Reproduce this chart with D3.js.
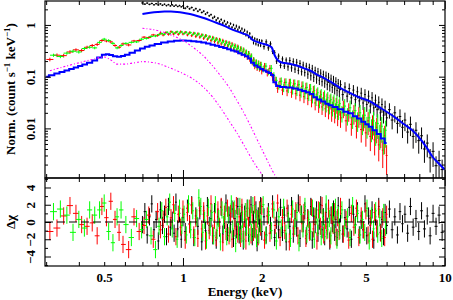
<!DOCTYPE html>
<html>
<head>
<meta charset="utf-8">
<script src="https://cdn.jsdelivr.net/npm/d3@7"></script>
<style>body{margin:0;background:#fff}</style>
</head>
<body>
<div id="chart"></div>
<script>
// rows: [energy keV, counts/s/keV, fractional error, residual (delta chi)]
var blackRows = [
	[0.700,2.66,.035,-0.3],[0.715,2.52,.035,1.2],[0.730,2.64,.035,-1.5],[0.745,2.49,.035,0.6],[0.760,2.60,.035,2.1],
	[0.775,2.45,.035,-0.9],[0.790,2.57,.035,0.3],[0.805,2.43,.035,-2.2],[0.820,2.55,.035,1.4],[0.835,2.40,.035,-0.4],
	[0.850,2.51,.035,0.9],[0.865,2.36,.035,-1.7],[0.880,2.47,.035,1.8],[0.895,2.33,.035,-0.6],[0.910,2.44,.035,0.2],
	[0.925,2.30,.035,-1.3],[0.940,2.41,.035,2.3],[0.955,2.27,.035,-0.8],[0.970,2.37,.035,1.0],[0.985,2.24,.035,-2.0],
	[1.000,2.33,.035,0.5],
	[1.02,2.10,.045,-1.1],[1.04,2.25,.045,1.6],[1.06,2.05,.045,-0.2],[1.08,2.17,.045,2.0],[1.10,1.93,.045,-1.8],
	[1.12,2.06,.045,0.7],[1.14,1.84,.045,-0.5],[1.16,1.97,.045,1.3],[1.18,1.74,.045,-2.3],[1.20,1.84,.045,0.9],
	[1.22,1.62,.045,-1.0],[1.24,1.73,.045,1.9],[1.26,1.50,.045,-0.4],[1.28,1.58,.045,0.4],[1.30,1.36,.055,-1.6],
	[1.32,1.44,.055,1.2],[1.34,1.24,.055,-2.1],[1.36,1.35,.055,0.6],[1.38,1.16,.055,-0.7],[1.40,1.27,.055,1.7],
	[1.42,1.09,.055,-1.4],[1.44,1.19,.055,0.2],[1.46,1.03,.055,2.2],[1.48,1.12,.055,-1.2],[1.50,0.95,.055,0.8],
	[1.52,1.06,.055,-0.3],[1.54,0.90,.055,1.5],[1.56,1.00,.055,-1.9],[1.58,0.85,.055,0.4],[1.60,0.95,.07,-0.9],
	[1.62,0.80,.07,1.8],[1.64,0.90,.07,-1.5],[1.66,0.75,.07,0.1],[1.68,0.84,.07,1.1],[1.70,0.70,.07,-2.2],
	[1.72,0.79,.07,0.9],[1.74,0.64,.07,-0.6],[1.76,0.73,.07,1.6],[1.78,0.59,.07,-1.3],[1.80,0.68,.07,0.5],
	[1.82,0.55,.07,2.0],[1.84,0.58,.07,-1.7],[1.86,0.45,.07,0.3],[1.88,0.54,.07,-0.8],[1.90,0.43,.07,1.4],
	[1.92,0.52,.07,-2.4],[1.94,0.41,.07,0.7],[1.96,0.50,.07,-0.2],[1.98,0.40,.07,1.9],[2.00,0.49,.07,-1.1],
	[2.04,0.38,.12,0.6],[2.08,0.47,.12,-1.5],[2.12,0.36,.12,1.2],[2.16,0.43,.12,-0.4],[2.20,0.31,.12,2.1],
	[2.24,0.29,.12,-1.8],[2.28,0.20,.12,0.2],[2.32,0.25,.12,-0.9],[2.36,0.165,.12,1.7],[2.40,0.22,.12,-1.2],
	[2.44,0.16,.12,0.8],[2.48,0.21,.12,-2.3],[2.52,0.155,.16,1.0],[2.56,0.205,.16,-0.5],[2.60,0.148,.16,1.9],
	[2.64,0.195,.16,-1.4],[2.68,0.140,.16,0.4],[2.72,0.190,.16,-0.7],[2.76,0.132,.16,2.2],[2.80,0.180,.16,-1.9],
	[2.84,0.125,.16,0.9],[2.88,0.168,.16,-0.2],[2.92,0.120,.16,1.3],[2.96,0.160,.16,-1.6],[3.00,0.112,.19,0.5],
	[3.04,0.150,.19,-1.0],[3.08,0.104,.19,1.8],[3.12,0.142,.19,-2.1],[3.16,0.097,.19,0.7],[3.20,0.131,.19,-0.3],
	[3.24,0.090,.19,1.4],[3.28,0.124,.19,-1.3],[3.32,0.085,.19,0.1],[3.36,0.117,.19,2.0],[3.40,0.080,.19,-0.9],
	[3.44,0.110,.19,0.6],[3.48,0.075,.19,-1.7],[3.52,0.103,.22,1.1],[3.56,0.070,.22,-0.5],[3.60,0.097,.22,1.6],
	[3.64,0.066,.22,-2.2],[3.68,0.090,.22,0.8],[3.72,0.062,.22,-0.2],[3.76,0.085,.22,1.5],[3.80,0.058,.22,-1.2],
	[3.84,0.080,.22,0.3],[3.88,0.054,.22,-1.8],[3.92,0.074,.22,1.9],[3.96,0.051,.22,-0.6],[4.00,0.070,.22,1.0],
	[4.08,0.045,.24,-1.4],[4.16,0.063,.24,0.5],[4.24,0.042,.24,-0.8],[4.32,0.059,.25,1.7],[4.40,0.039,.25,-2.0],
	[4.48,0.055,.25,0.9],[4.56,0.036,.26,-0.3],[4.64,0.051,.26,1.3],[4.72,0.034,.26,-1.5],[4.80,0.048,.27,0.2],
	[4.88,0.031,.27,-0.9],[4.96,0.045,.27,2.1],[5.04,0.029,.28,-1.6],[5.12,0.042,.28,0.7],[5.20,0.027,.28,-0.4],
	[5.28,0.039,.29,1.4],[5.36,0.025,.29,-2.1],[5.44,0.035,.29,0.6],[5.52,0.023,.30,-0.8],[5.60,0.032,.30,1.8],
	[5.68,0.020,.30,-1.2],[5.76,0.029,.31,0.3],[5.84,0.018,.31,-1.7],[5.92,0.026,.32,1.1],[6.00,0.016,.32,-0.4],
	[6.15,0.023,.33,1.5],[6.30,0.0145,.34,-0.9],[6.45,0.020,.35,0.6],[6.60,0.0125,.36,-1.5],[6.75,0.017,.37,1.2],
	[6.90,0.0105,.38,-0.2],[7.05,0.0145,.39,0.9],[7.22,0.0085,.40,-1.3],[7.40,0.0120,.41,1.8],[7.58,0.0070,.42,-0.6],
	[7.77,0.0092,.43,0.4],[7.96,0.0058,.44,-1.1],[8.16,0.0072,.45,1.3],[8.37,0.0040,.46,-0.8],[8.58,0.0052,.47,0.7],
	[8.80,0.0027,.48,-1.6],[9.03,0.0036,.50,1.0],[9.27,0.0019,.52,-0.5],[9.52,0.0024,.54,0.8],[9.78,0.0016,.56,-1.2]
];

var redRows = [
	[0.31,0.215,.08,-1.1],[0.33,0.26,.08,-0.7],[0.35,0.255,.08,0.7],[0.37,0.30,.08,1.9],[0.39,0.33,.07,1.0],
	[0.41,0.32,.07,-0.3],[0.43,0.37,.07,-0.5],[0.45,0.40,.07,-0.1],[0.47,0.42,.07,-1.6],[0.49,0.50,.06,1.8],
	[0.51,0.49,.06,0.5],[0.53,0.47,.06,2.4],[0.55,0.40,.06,0.3],[0.57,0.37,.06,-1.2],[0.59,0.43,.06,-2.6],
	[0.62,0.41,.06,-3.2],[0.65,0.49,.05,0.6],[0.68,0.50,.05,-1.1],[0.71,0.58,.05,-0.4],[0.74,0.57,.05,0.8],
	[0.77,0.64,.05,-2.0],
	[0.80,0.63,.06,1.2],[0.82,0.69,.06,-0.9],[0.84,0.64,.06,0.3],[0.86,0.71,.06,1.7],[0.88,0.66,.06,-1.4],
	[0.90,0.74,.06,0.5],[0.92,0.67,.06,2.0],[0.94,0.72,.06,-1.7],[0.96,0.66,.06,0.9],[0.98,0.74,.06,-0.6],
	[1.00,0.67,.06,1.5],[1.02,0.72,.06,-2.1],[1.04,0.64,.06,1.1],[1.06,0.71,.06,-0.3],[1.08,0.62,.06,1.9],
	[1.10,0.69,.07,-1.5],[1.12,0.60,.07,0.4],[1.14,0.67,.07,-1.9],[1.16,0.58,.07,1.6],[1.18,0.64,.07,-0.8],
	[1.20,0.55,.07,1.3],[1.22,0.62,.07,-2.2],[1.24,0.53,.07,0.7],[1.26,0.59,.07,-1.0],[1.28,0.50,.07,2.1],
	[1.30,0.57,.08,-1.3],[1.32,0.48,.08,0.2],[1.34,0.54,.08,-1.8],[1.36,0.45,.08,1.4],[1.38,0.52,.08,-0.5],
	[1.40,0.43,.08,1.8],[1.42,0.50,.08,-2.4],[1.44,0.41,.08,0.9],[1.46,0.47,.09,-1.1],[1.48,0.39,.09,1.6],
	[1.50,0.45,.09,-1.6],[1.52,0.37,.09,1.0],[1.54,0.43,.09,-2.0],[1.56,0.34,.09,1.3],[1.58,0.40,.10,-0.7],
	[1.60,0.32,.10,1.9],[1.62,0.38,.10,-1.4],[1.64,0.30,.10,0.6],[1.66,0.35,.10,-1.9],[1.68,0.28,.11,1.7],
	[1.70,0.33,.11,-1.1],[1.72,0.26,.11,0.4],[1.74,0.30,.11,-2.2],[1.76,0.24,.12,1.2],[1.78,0.28,.12,-0.4],
	[1.80,0.22,.12,1.6],[1.82,0.25,.12,-1.5],[1.84,0.19,.13,0.8],[1.86,0.21,.13,-1.2],[1.88,0.16,.13,2.0],
	[1.90,0.19,.13,-0.9],[1.92,0.15,.14,0.3],[1.94,0.18,.14,-1.7],[1.96,0.145,.14,1.4],[1.98,0.17,.14,-0.6],
	[2.00,0.13,.15,1.8],[2.05,0.16,.15,-2.1],[2.10,0.12,.16,0.7],[2.15,0.145,.16,-1.3],[2.20,0.10,.17,1.5],
	[2.25,0.085,.18,-0.4],[2.30,0.060,.19,2.2],[2.35,0.080,.19,-1.8],[2.40,0.055,.20,0.5],[2.45,0.077,.20,-1.0],
	[2.50,0.053,.21,1.6],[2.55,0.075,.21,-2.3],[2.60,0.050,.22,0.9],[2.65,0.072,.22,-0.7],[2.70,0.047,.23,1.3],
	[2.75,0.069,.23,-1.6],[2.80,0.044,.24,2.0],[2.85,0.065,.24,-0.2],[2.90,0.041,.25,1.1],[2.95,0.061,.25,-1.9],
	[3.00,0.038,.26,0.4],[3.05,0.057,.26,-1.2],[3.10,0.035,.27,1.7],[3.15,0.052,.27,-0.8],[3.20,0.031,.28,0.6],
	[3.25,0.046,.28,-2.2],[3.30,0.028,.29,1.4],[3.35,0.042,.29,-0.5],[3.40,0.026,.30,1.9],[3.45,0.039,.30,-1.5],
	[3.50,0.024,.31,0.2],[3.55,0.036,.31,-1.0],[3.60,0.022,.32,1.5],[3.65,0.034,.32,-2.0],[3.70,0.020,.33,0.8],
	[3.75,0.031,.33,-0.4],[3.80,0.019,.34,1.2],[3.85,0.029,.34,-1.7],[3.90,0.017,.35,0.5],[3.95,0.027,.35,-1.1],
	[4.00,0.016,.36,1.8],[4.10,0.025,.37,-1.4],[4.20,0.014,.38,0.3],[4.30,0.022,.39,-2.1],[4.40,0.012,.40,1.0],
	[4.50,0.020,.41,-0.6],[4.60,0.011,.42,1.6],[4.70,0.018,.43,-1.8],[4.80,0.0095,.44,0.7],[4.90,0.016,.45,-0.9],
	[5.00,0.0082,.46,1.3],[5.10,0.014,.47,-1.5],[5.20,0.0070,.48,0.4],[5.30,0.012,.49,-2.0],[5.40,0.0060,.50,1.1],
	[5.50,0.0105,.51,-0.7],[5.60,0.0048,.52,1.5],[5.70,0.0088,.53,-1.3],[5.80,0.0038,.55,0.6],[5.90,0.0072,.56,-1.8],
	[6.00,0.0030,.58,0.9]
];

var greenRows = [
	[0.32,0.26,.07,1.2],[0.34,0.245,.07,1.5],[0.36,0.285,.07,0.8],[0.38,0.31,.07,-1.2],[0.40,0.30,.07,0.3],
	[0.42,0.35,.07,-0.7],[0.44,0.37,.06,1.4],[0.46,0.36,.06,0.8],[0.48,0.46,.06,1.4],[0.50,0.53,.06,2.2],
	[0.52,0.50,.06,-1.1],[0.54,0.44,.06,-2.4],[0.56,0.36,.06,0.6],[0.58,0.40,.06,1.4],[0.605,0.44,.05,-0.3],
	[0.635,0.46,.05,-1.8],[0.665,0.47,.05,0.4],[0.695,0.53,.05,-0.9],[0.725,0.55,.05,0.3],[0.755,0.60,.05,-1.6],
	[0.785,0.61,.05,-3.2],
	[0.81,0.65,.05,-0.5],[0.83,0.68,.05,1.3],[0.85,0.66,.05,-1.7],[0.87,0.72,.05,0.6],[0.89,0.68,.05,2.3],
	[0.91,0.73,.05,-0.8],[0.93,0.69,.05,1.0],[0.95,0.74,.05,-2.0],[0.97,0.69,.05,1.6],[0.99,0.73,.05,-0.4],
	[1.01,0.68,.05,0.9],[1.03,0.72,.05,-1.5],[1.05,0.67,.05,2.1],[1.07,0.71,.05,-0.9],[1.09,0.65,.05,1.3],
	[1.11,0.69,.06,-1.8],[1.13,0.63,.06,0.5],[1.15,0.67,.06,2.8],[1.17,0.60,.06,1.8],[1.19,0.64,.06,-1.2],
	[1.21,0.58,.06,0.2],[1.23,0.62,.06,-2.1],[1.25,0.55,.06,1.7],[1.27,0.59,.06,-0.6],[1.29,0.52,.07,1.1],
	[1.31,0.56,.07,-1.6],[1.33,0.50,.07,2.0],[1.35,0.53,.07,-1.0],[1.37,0.47,.07,0.4],[1.39,0.51,.07,-2.3],
	[1.41,0.45,.07,1.4],[1.43,0.48,.07,-0.3],[1.45,0.42,.08,1.2],[1.47,0.46,.08,-1.7],[1.49,0.40,.08,0.8],
	[1.51,0.44,.08,-1.3],[1.53,0.38,.08,2.1],[1.55,0.41,.08,-0.8],[1.57,0.36,.09,1.5],[1.59,0.39,.09,-2.5],
	[1.61,0.34,.09,0.6],[1.63,0.37,.09,-1.1],[1.65,0.31,.10,1.8],[1.67,0.35,.10,-1.4],[1.69,0.29,.10,0.3],
	[1.71,0.33,.10,-2.0],[1.73,0.27,.11,1.2],[1.75,0.30,.11,-0.6],[1.77,0.25,.11,1.6],[1.79,0.28,.11,-1.7],
	[1.81,0.23,.12,0.7],[1.83,0.25,.12,-1.2],[1.85,0.19,.12,1.9],[1.87,0.21,.12,-0.9],[1.89,0.17,.13,1.0],
	[1.91,0.19,.13,-1.9],[1.93,0.155,.13,0.4],[1.95,0.18,.13,-1.5],[1.97,0.15,.14,1.3],[1.99,0.17,.14,-0.2],
	[2.025,0.14,.14,2.0],[2.075,0.16,.15,-1.6],[2.125,0.125,.15,0.8],[2.175,0.145,.16,-1.0],[2.225,0.105,.16,1.4],
	[2.275,0.085,.17,-2.2],[2.325,0.068,.18,0.6],[2.375,0.082,.18,-0.7],[2.425,0.062,.19,1.7],[2.475,0.078,.19,-1.3],
	[2.525,0.060,.20,0.2],[2.575,0.076,.20,-1.9],[2.625,0.057,.21,1.5],[2.675,0.073,.21,-0.5],[2.725,0.054,.22,1.1],
	[2.775,0.070,.22,-2.4],[2.825,0.051,.23,0.9],[2.875,0.066,.23,-0.8],[2.925,0.048,.24,1.8],[2.975,0.062,.24,-1.4],
	[3.025,0.045,.25,0.3],[3.075,0.058,.25,-1.1],[3.125,0.041,.26,1.6],[3.175,0.054,.26,-2.0],[3.225,0.037,.27,0.7],
	[3.275,0.049,.27,-0.6],[3.325,0.034,.28,1.3],[3.375,0.045,.28,-1.7],[3.425,0.031,.29,0.5],[3.475,0.042,.29,-1.2],
	[3.525,0.029,.30,2.1],[3.575,0.039,.30,-0.9],[3.625,0.027,.31,0.4],[3.675,0.036,.31,-1.6],[3.725,0.025,.32,1.2],
	[3.775,0.034,.32,-0.3],[3.825,0.023,.33,1.7],[3.875,0.032,.33,-2.1],[3.925,0.022,.34,0.8],[3.975,0.030,.34,-1.0],
	[4.05,0.020,.35,1.4],[4.15,0.027,.36,-0.7],[4.25,0.018,.37,0.6],[4.35,0.025,.38,-1.8],[4.45,0.016,.39,1.9],
	[4.55,0.022,.40,-0.4],[4.65,0.0145,.41,1.0],[4.75,0.020,.42,-1.5],[4.85,0.013,.43,0.3],[4.95,0.018,.44,-1.2],
	[5.05,0.0115,.45,1.6],[5.15,0.016,.46,-2.2],[5.25,0.0102,.47,0.7],[5.35,0.014,.48,-0.8],[5.45,0.0090,.49,1.3],
	[5.55,0.0125,.50,-1.4],[5.65,0.0078,.51,0.5],[5.75,0.0110,.52,-1.9],[5.85,0.0066,.53,1.1],[5.95,0.0092,.54,-0.6]
];

// folded models (blue)
var modelHigh = [
	[0.70,1.63],[0.75,1.72],[0.80,1.78],[0.85,1.81],[0.90,1.81],[0.95,1.78],[1.0,1.72],[1.05,1.64],[1.1,1.55],
	[1.2,1.36],[1.3,1.17],[1.4,1.02],[1.5,0.87],[1.6,0.76],[1.7,0.68],[1.78,0.62],[1.84,0.52],[1.9,0.48],
	[2.0,0.44],[2.1,0.41],[2.18,0.37],[2.24,0.26],[2.3,0.21],[2.4,0.185],[2.55,0.178],[2.7,0.166],[2.9,0.145],
	[3.07,0.130],[3.25,0.110],[3.45,0.095],[3.66,0.080],[4.0,0.060],[4.36,0.048],[4.7,0.040],[5.2,0.033],
	[5.6,0.026],[6.0,0.021],[6.5,0.016],[7.0,0.012],[7.5,0.0093],[8.0,0.0066],[8.5,0.0044],[9.0,0.0028],
	[9.5,0.0021],[10.0,0.0016]
];
var modelLow = [
	[0.30,0.100],[0.315,0.107],[0.33,0.115],[0.345,0.123],[0.36,0.132],[0.375,0.141],[0.39,0.150],[0.405,0.160],
	[0.42,0.171],[0.44,0.185],[0.46,0.205],[0.48,0.235],[0.50,0.265],[0.515,0.272],[0.53,0.262],[0.55,0.247],
	[0.57,0.242],[0.59,0.250],[0.61,0.265],[0.64,0.290],[0.67,0.320],[0.70,0.350],[0.73,0.378],[0.76,0.402],
	[0.80,0.430],[0.85,0.458],[0.90,0.480],[0.95,0.495],[1.0,0.500],[1.05,0.495],[1.1,0.485],[1.15,0.472],
	[1.2,0.455],[1.25,0.436],[1.3,0.415],[1.35,0.395],[1.4,0.375],[1.45,0.357],[1.5,0.340],[1.55,0.322],
	[1.6,0.305],[1.65,0.285],[1.7,0.265],[1.75,0.248],[1.8,0.225],[1.84,0.185],[1.9,0.165],[1.95,0.152],
	[2.0,0.140],[2.05,0.132],[2.1,0.125],[2.15,0.118],[2.19,0.108],[2.24,0.078],[2.3,0.066],[2.4,0.063],
	[2.55,0.062],[2.7,0.059],[2.8,0.056],[2.9,0.053],[3.0,0.050],[3.1,0.046],[3.2,0.040],[3.3,0.036],
	[3.45,0.033],[3.55,0.030],[3.66,0.028],[3.8,0.026],[4.0,0.0235],[4.2,0.021],[4.36,0.0196],[4.55,0.0172],
	[4.7,0.0155],[4.9,0.0135],[5.05,0.0120],[5.2,0.0108],[5.4,0.0092],[5.6,0.0078],[5.8,0.0064],[6.0,0.0052]
];

// additive components (magenta)
var compHigh = [
	[0.70,0.86],[0.80,0.78],[0.90,0.64],[1.0,0.50],[1.1,0.36],[1.2,0.25],[1.3,0.16],[1.4,0.10],[1.5,0.062],
	[1.6,0.036],[1.7,0.021],[1.8,0.012],[1.9,0.0068],[2.0,0.0040],[2.1,0.0024],[2.2,0.0015],[2.3,0.0010]
];
var compLow = [
	[0.31,0.13],[0.35,0.155],[0.40,0.185],[0.45,0.215],[0.50,0.24],[0.53,0.21],[0.56,0.175],[0.60,0.175],
	[0.65,0.185],[0.70,0.195],[0.80,0.18],[0.90,0.145],[1.0,0.115],[1.1,0.088],[1.2,0.062],[1.3,0.040],
	[1.4,0.024],[1.5,0.014],[1.6,0.0085],[1.7,0.0050],[1.8,0.0030],[1.9,0.0019],[2.0,0.0013],[2.06,0.0010]
];

// ticks
var xMajor = [1, 10];
var xMinor = [0.3, 0.4, 0.5, 0.6, 0.7, 0.8, 0.9, 2, 3, 4, 5, 6, 7, 8, 9];
var xLabels = [0.5, 1, 2, 5, 10];
var yMajor = [0.01, 0.1, 1];
var yMinor = [0.002,0.003,0.004,0.005,0.006,0.007,0.008,0.009,0.02,0.03,0.04,0.05,0.06,0.07,0.08,0.09,
	0.2,0.3,0.4,0.5,0.6,0.7,0.8,0.9,2];
var rMajor = [-4, -2, 0, 2, 4];
var rMinor = [-5, -3, -1, 1, 3, 5];

var svg = d3.select("#chart")
	.append("svg")
	.attr("width", 453)
	.attr("height", 300)
	.style("font-family", "'Liberation Serif', serif")
	.style("font-weight", "bold");

var x = d3.scaleLog().domain([0.297, 10.03]).range([45, 445]);
var y = d3.scaleLog().domain([0.0011, 2.9]).range([178, 1]);
var yr = d3.scaleLinear().domain([-5.1, 5.1]).range([266, 178]);

svg.append("clipPath").attr("id", "cTop").append("rect")
	.attr("x", 45).attr("y", 1).attr("width", 400).attr("height", 177);
svg.append("clipPath").attr("id", "cRes").append("rect")
	.attr("x", 45).attr("y", 178).attr("width", 400).attr("height", 88);

var topG = svg.append("g").attr("clip-path", "url(#cTop)");
var resG = svg.append("g").attr("clip-path", "url(#cRes)");

// bin edges from neighbouring channel energies
function bins(rows) {
	return rows.map((d, i) => {
		var prev = i > 0 ? rows[i-1][0] : d[0]*d[0]/rows[i+1][0];
		var next = i < rows.length-1 ? rows[i+1][0] : d[0]*d[0]/rows[i-1][0];
		return {e: d[0], v: d[1], s: d[2], r: d[3], lo: Math.sqrt(prev*d[0]), hi: Math.sqrt(next*d[0])};
	});
}

function drawSeries(rows, color) {
	var pts = bins(rows);
	var g1 = topG.append("g").attr("stroke", color).attr("stroke-width", 1);
	g1.selectAll(".h").data(pts).enter().append("line").attr("class", "h")
		.attr("x1", d => x(d.lo)).attr("x2", d => x(d.hi))
		.attr("y1", d => y(d.v)).attr("y2", d => y(d.v));
	g1.selectAll(".v").data(pts).enter().append("line").attr("class", "v")
		.attr("x1", d => x(d.e)).attr("x2", d => x(d.e))
		.attr("y1", d => y(d.v*(1-d.s))).attr("y2", d => y(d.v*(1+d.s)));

	var g2 = resG.append("g").attr("stroke", color).attr("stroke-width", 1);
	g2.selectAll(".h").data(pts).enter().append("line").attr("class", "h")
		.attr("x1", d => x(d.lo)).attr("x2", d => x(d.hi))
		.attr("y1", d => yr(d.r)).attr("y2", d => yr(d.r));
	g2.selectAll(".v").data(pts).enter().append("line").attr("class", "v")
		.attr("x1", d => x(d.e)).attr("x2", d => x(d.e))
		.attr("y1", d => yr(d.r-1)).attr("y2", d => yr(d.r+1));
}

drawSeries(blackRows, "#000");
drawSeries(redRows, "#ff0000");
drawSeries(greenRows, "#00ff00");

var stepLine = d3.line().x(d => x(d[0])).y(d => y(d[1])).curve(d3.curveStep);
var smoothLine = d3.line().x(d => x(d[0])).y(d => y(d[1])).curve(d3.curveMonotoneX);

topG.append("path").datum(modelHigh).attr("d", smoothLine)
	.attr("fill", "none").attr("stroke", "#0000ff").attr("stroke-width", 2);
topG.append("path").datum(modelLow).attr("d", stepLine)
	.attr("fill", "none").attr("stroke", "#0000ff").attr("stroke-width", 2);

[compHigh, compLow].forEach(c => {
	topG.append("path").datum(c).attr("d", smoothLine)
		.attr("fill", "none").attr("stroke", "#ff00ff").attr("stroke-width", 1.1)
		.attr("stroke-dasharray", "2,2,1,2");
});

// zero line of the residuals
resG.append("line")
	.attr("x1", 45).attr("x2", 445).attr("y1", yr(0)).attr("y2", yr(0))
	.attr("stroke", "#000").attr("stroke-width", 1).attr("stroke-dasharray", "8,4");

// inward ticks on every edge
function ticks(axis, tr, vals, size) {
	svg.append("g").attr("transform", tr)
		.call(axis.tickValues(vals).tickSize(size).tickFormat(""))
		.call(g => g.select(".domain").remove());
}
[[xMajor, 8], [xMinor, 4]].forEach(t => {
	ticks(d3.axisBottom(x), "translate(0,1)", t[0], t[1]);
	ticks(d3.axisTop(x), "translate(0,178)", t[0], t[1]);
	ticks(d3.axisBottom(x), "translate(0,178)", t[0], t[1]);
	ticks(d3.axisTop(x), "translate(0,266)", t[0], t[1]);
});
[[yMajor, 6], [yMinor, 3]].forEach(t => {
	ticks(d3.axisRight(y), "translate(45,0)", t[0], t[1]);
	ticks(d3.axisLeft(y), "translate(445,0)", t[0], t[1]);
});
[[rMajor, 6], [rMinor, 3]].forEach(t => {
	ticks(d3.axisRight(yr), "translate(45,0)", t[0], t[1]);
	ticks(d3.axisLeft(yr), "translate(445,0)", t[0], t[1]);
});

// frames
svg.append("rect").attr("x", 45).attr("y", 1).attr("width", 400).attr("height", 177)
	.attr("fill", "none").attr("stroke", "#000").attr("stroke-width", 1.2);
svg.append("rect").attr("x", 45).attr("y", 178).attr("width", 400).attr("height", 88)
	.attr("fill", "none").attr("stroke", "#000").attr("stroke-width", 1.2);

// tick labels
svg.append("g").attr("transform", "translate(0,266)")
	.call(d3.axisBottom(x).tickValues(xLabels).tickSize(0).tickPadding(7).tickFormat(d3.format("~g")))
	.call(g => g.select(".domain").remove())
	.attr("font-family", null).attr("font-size", 13);

function yLabels(scale, vals, fmt) {
	svg.append("g").attr("transform", "translate(45,0)")
		.call(d3.axisLeft(scale).tickValues(vals).tickSize(0).tickFormat(fmt))
		.call(g => g.select(".domain").remove())
		.attr("font-family", null).attr("font-size", 13)
		.selectAll("text")
		.attr("x", null).attr("dy", null)
		.attr("text-anchor", "middle")
		.attr("transform", "translate(-10,0) rotate(-90)");
}
yLabels(y, yMajor, d3.format("~g"));
yLabels(yr, rMajor, d3.format("d"));

// axis titles
svg.append("text")
	.attr("x", 245).attr("y", 296)
	.attr("text-anchor", "middle")
	.style("font-size", 13)
	.text("Energy (keV)");

var yt = svg.append("text")
	.attr("transform", "translate(15,89) rotate(-90)")
	.attr("text-anchor", "middle")
	.style("font-size", 13);
yt.append("tspan").text("Norm. (count s");
yt.append("tspan").attr("dy", -5).style("font-size", 9).text("\u22121");
yt.append("tspan").attr("dy", 5).text(" keV");
yt.append("tspan").attr("dy", -5).style("font-size", 9).text("\u22121");
yt.append("tspan").attr("dy", 5).text(")");

svg.append("text")
	.attr("transform", "translate(15,222) rotate(-90)")
	.attr("text-anchor", "middle")
	.style("font-size", 13)
	.text("\u0394\u03c7");
</script>
</body>
</html>
